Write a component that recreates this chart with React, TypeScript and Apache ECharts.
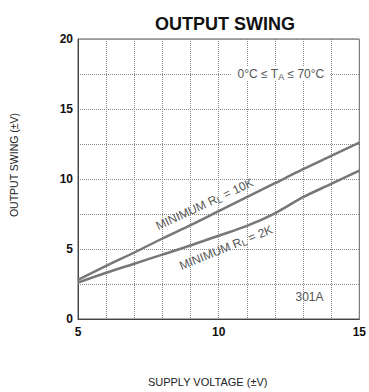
import React, { useEffect, useRef } from "react";
import * as echarts from "echarts";

const supplyVoltage = [5, 6, 7, 8, 9, 10, 11, 12, 13, 14, 15];
const swing10K = [2.8, 3.8, 4.75, 5.75, 6.7, 7.7, 8.7, 9.7, 10.7, 11.65, 12.6];
const swing2K = [2.6, 3.3, 3.95, 4.6, 5.25, 5.95, 6.65, 7.55, 8.7, 9.65, 10.6];
const xTickLabels = [5, 10, 15];
const yTickLabels = [0, 5, 10, 15, 20];

const annotations = [
  { text: "MINIMUM R{sub|L} = 10K", x: 9.5, y: 8.2, angle: 25 },
  { text: "MINIMUM R{sub|L} = 2K", x: 10.26, y: 5.1, angle: 22 },
  { text: "0°C ≤ T{sub|A} ≤ 70°C", x: 12.21, y: 17.5, angle: 0, bg: true },
  { text: "301A", x: 13.23, y: 1.54, angle: 0 },
];

export default function App() {
  const ref = useRef<HTMLDivElement>(null);
  useEffect(() => {
    document.body.style.margin = "0";
    if (!ref.current) return;
    const chart = echarts.init(ref.current, null, { renderer: "svg" });
    const font = "'Liberation Sans', Arial, sans-serif";
    chart.setOption({
      animation: false,
      backgroundColor: "#fff",
      title: {
        text: "OUTPUT SWING",
        left: 220,
        textAlign: "center",
        top: 10,
        textStyle: { fontSize: 18, fontWeight: "bold", color: "#111", fontFamily: font },
      },
      grid: {
        left: 77,
        right: 7,
        top: 39,
        bottom: 67,
        show: true,
        borderColor: "#555",
        borderWidth: 1,
      },
      xAxis: {
        type: "value",
        min: 5,
        max: 15,
        interval: 1,
        name: "SUPPLY VOLTAGE (±V)",
        nameLocation: "middle",
        nameGap: 57,
        nameTextStyle: { fontSize: 11, color: "#222", fontFamily: font, padding: [0, 22, 0, 0] },
        axisLine: { show: true, lineStyle: { color: "#444", width: 1 } },
        axisTick: { show: false },
        axisLabel: {
          margin: 7,
          fontSize: 12,
          fontWeight: "bold",
          color: "#111",
          fontFamily: font,
          formatter: (v: number) => (xTickLabels.includes(v) ? String(v) : ""),
        },
        splitLine: { show: true, lineStyle: { color: "#8a8a8a", type: "dotted", width: 1 } },
      },
      yAxis: {
        type: "value",
        min: 0,
        max: 20,
        interval: 2.5,
        name: "OUTPUT SWING (±V)",
        nameLocation: "middle",
        nameGap: 59,
        nameTextStyle: { fontSize: 10.5, color: "#222", fontFamily: font, padding: [0, 0, 0, 28] },
        axisLine: { show: true, lineStyle: { color: "#444", width: 1 } },
        axisTick: { show: false },
        axisLabel: {
          margin: 5,
          fontSize: 12,
          fontWeight: "bold",
          color: "#111",
          fontFamily: font,
          formatter: (v: number) => (yTickLabels.includes(v) ? String(v) : ""),
        },
        splitLine: { show: true, lineStyle: { color: "#8a8a8a", type: "dotted", width: 1 } },
      },
      series: [
        {
          name: "10K",
          type: "line",
          smooth: 0.3,
          symbol: "none",
          lineStyle: { color: "#777", width: 2.5 },
          data: supplyVoltage.map((v, i) => [v, swing10K[i]]),
        },
        {
          name: "2K",
          type: "line",
          smooth: 0.3,
          symbol: "none",
          lineStyle: { color: "#777", width: 2.5 },
          data: supplyVoltage.map((v, i) => [v, swing2K[i]]),
        },
      ],
    });
    const graphics = annotations.map((a) => {
      const [px, py] = chart.convertToPixel({ gridIndex: 0 }, [a.x, a.y]) as number[];
      return {
        type: "text",
        x: px,
        y: py,
        rotation: (a.angle * Math.PI) / 180,
        z: 10,
        style: {
          text: a.text,
          align: "center",
          verticalAlign: "middle",
          fontSize: 12,
          fontFamily: font,
          fill: "#555",
          backgroundColor: a.bg ? "#fff" : undefined,
          padding: a.bg ? [0, 6] : 0,
          rich: {
            sub: { fontSize: 9, fill: "#555", fontFamily: font, padding: [5, 0, 0, 0] },
          },
        },
      };
    });
    chart.setOption({ graphic: graphics });
    return () => chart.dispose();
  }, []);
  return <div ref={ref} style={{ width: 369, height: 392 }} />;
}
